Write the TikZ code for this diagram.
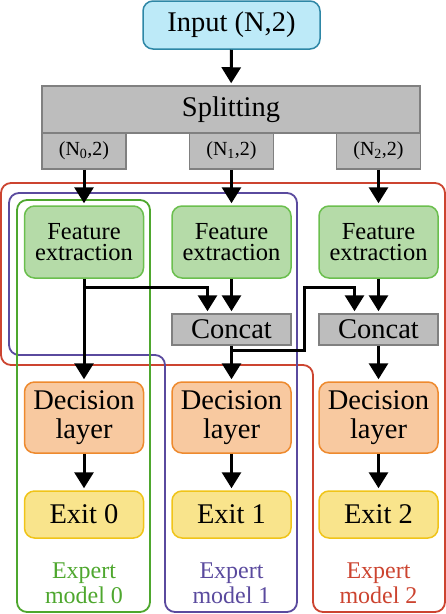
\documentclass[tikz,border=0pt]{standalone}
\usepackage{fontspec}
\setmainfont{Liberation Serif}
\usetikzlibrary{arrows.meta}
\definecolor{inputfill}{HTML}{BDEAF8}
\definecolor{inputline}{HTML}{2E87A6}
\definecolor{grayfill}{HTML}{BDBDBD}
\definecolor{grayline}{HTML}{808080}
\definecolor{featfill}{HTML}{B5DBA8}
\definecolor{featline}{HTML}{6BBF4E}
\definecolor{decfill}{HTML}{F8C9A0}
\definecolor{decline}{HTML}{EE8A2E}
\definecolor{exitfill}{HTML}{F9E48C}
\definecolor{exitline}{HTML}{F0C419}
\definecolor{grpgreen}{HTML}{4EA72E}
\definecolor{grppurple}{HTML}{5A4A9E}
\definecolor{grpred}{HTML}{CC4430}
\begin{document}
\begin{tikzpicture}[x = 1pt, y = -1pt,
		box/.style = {rounded corners = 10pt, line width = 1.5pt, align = center, inner sep = 0pt,
			minimum width = 119pt, font = \fontsize{28.5}{29}\selectfont},
		graybox/.style = {draw = grayline, fill = grayfill, line width = 1.5pt, inner sep = 0pt},
		arr/.style = {line width = 3pt, -{Triangle[length = 16pt, width = 19pt]}, shorten > = 2pt},
		group/.style = {rounded corners = 10pt, line width = 1.8pt}]
		\useasboundingbox (0, 0) rectangle (446, 614);
		% expert model outlines
		\draw[group, grpred] (1, 183) -- (445, 183) -- (445, 612) -- (313, 612) -- (313, 365) -- (1, 365) -- cycle;
		\draw[group, grppurple] (9, 193) -- (297, 193) -- (297, 612) -- (165, 612) -- (165, 355) -- (9, 355) -- cycle;
		\draw[group, grpgreen] (17, 200) rectangle (150, 612);
		% input and splitting
		\node[box, draw = inputline, fill = inputfill, minimum width = 177pt, minimum height = 48pt] (input) at (231.5, 25) {Input (N,2)};
		\node[graybox, minimum width = 378pt, minimum height = 47pt, font = \fontsize{28.5}{29}\selectfont] (split) at (231, 109.5) {Splitting};
		\foreach \i/\x/\grp in {0/84/grpgreen, 1/231.5/grppurple, 2/378.5/grpred}{
			\node[graybox, minimum width = 84pt, minimum height = 36pt, font = \fontsize{20}{22}\selectfont] (sub\i) at (\x, 151) {(N\textsubscript{\i},2)};
			\node[box, draw = featline, fill = featfill, minimum height = 72pt, font = \fontsize{24.5}{21}\selectfont] (feat\i) at (\x, 242) {Feature\\extraction};
			\node[box, draw = decline, fill = decfill, minimum height = 71pt] (dec\i) at (\x, 417.5) {Decision\\layer};
			\node[box, draw = exitline, fill = exitfill, minimum height = 47pt] (exit\i) at (\x, 514.5) {Exit \i};
			\node[align = center, text = \grp, font = \fontsize{24}{25}\selectfont] (label\i) at (\x, 583) {Expert\\model \i};
			\draw[arr] (sub\i) -- (feat\i);
			\draw[arr] (dec\i) -- (exit\i);}
		\foreach \i in {1, 2}{
			\node[graybox, minimum width = 119pt, minimum height = 31pt, font = \fontsize{28.5}{29}\selectfont] (concat\i) at (feat\i |- 0, 329.5) {Concat};
			\draw[arr] (feat\i) -- (concat\i);
			\draw[arr] (concat\i) -- (dec\i);}
		\draw[arr] (input) -- (split);
		\draw[arr] (feat0) -- (dec0);
		% side links into the concat blocks
		\coordinate (fork0) at (84, 287);
		\coordinate (fork1) at (231.5, 350);
		\draw[arr] (fork0) -| ([xshift = -24pt]concat1.north);
		\draw[arr] (fork1) -| (304, 287) -| ([xshift = -24pt]concat2.north);
\end{tikzpicture}
\end{document}
